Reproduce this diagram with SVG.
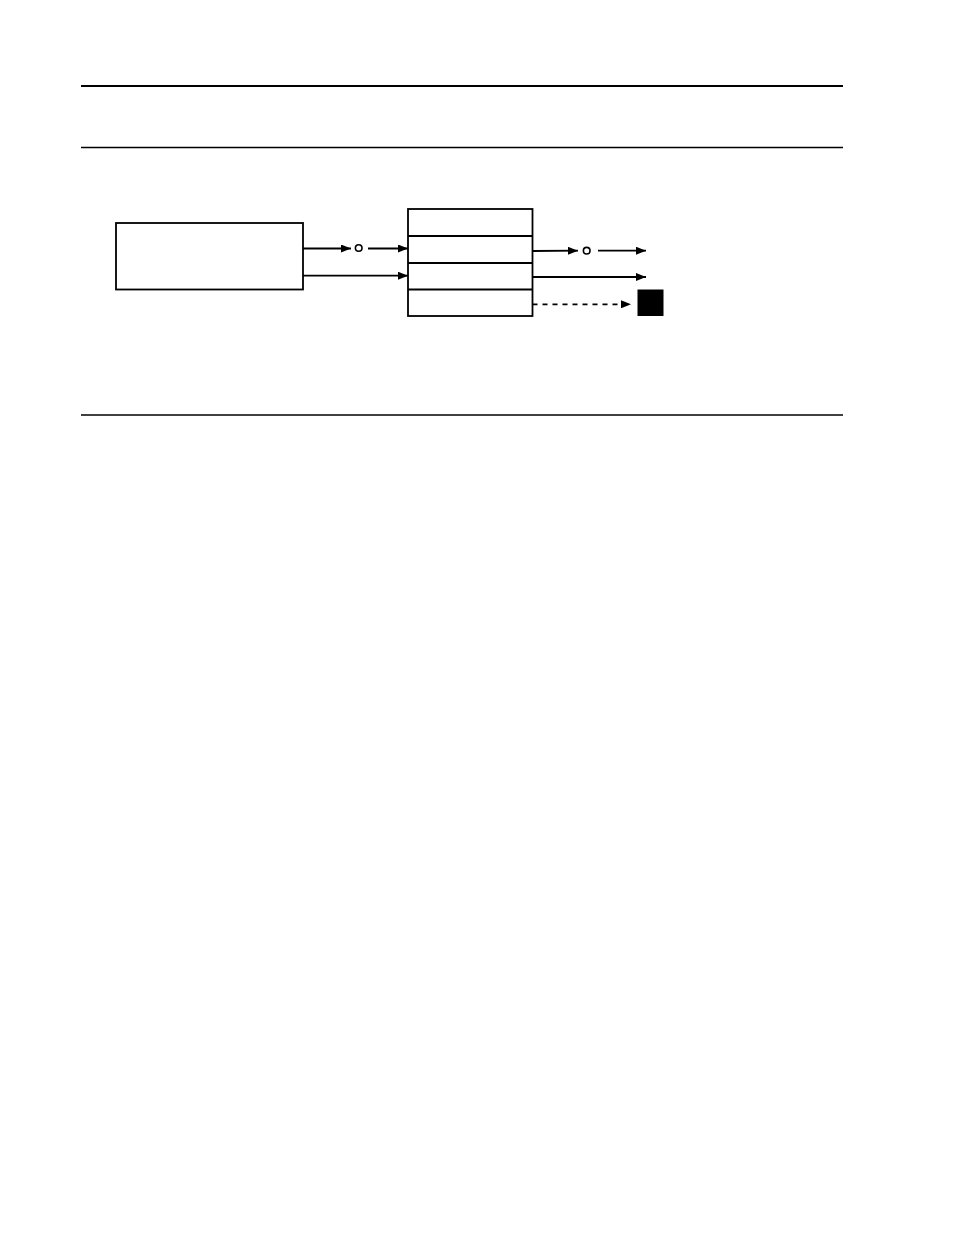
<svg xmlns="http://www.w3.org/2000/svg" width="954" height="1235" viewBox="0 0 954 1235">
<style>
.box{fill:#fff;stroke:#000;stroke-width:1.8}
.ln{stroke:#000;stroke-width:1.8;fill:none}
.rule{stroke:#000}
.dot{fill:#fff;stroke:#000;stroke-width:1.6}
</style>
<defs>
<marker id="ah" viewBox="0 0 10 8" refX="10" refY="4" markerWidth="10" markerHeight="8" markerUnits="userSpaceOnUse" orient="auto">
<path d="M0,0 L10,4 L0,8 Z" fill="#000"/>
</marker>
</defs>
<rect width="954" height="1235" fill="#fff"/>
<line class="rule" x1="81" y1="86" x2="843" y2="86" stroke-width="2"/>
<line class="rule" x1="81" y1="147.5" x2="843" y2="147.5" stroke-width="1.3"/>
<line class="rule" x1="81" y1="415" x2="843" y2="415" stroke-width="1.3"/>
<g id="source">
<rect class="box" x="116" y="223" width="187" height="66.5"/>
</g>
<g id="stack">
<rect class="box" x="408" y="209" width="124.5" height="107"/>
<line class="ln" x1="408" y1="236" x2="532.5" y2="236"/>
<line class="ln" x1="408" y1="263" x2="532.5" y2="263"/>
<line class="ln" x1="408" y1="289.5" x2="532.5" y2="289.5" stroke-width="1.2"/>
</g>
<g id="sink">
<rect x="637.5" y="289.5" width="26" height="26.5" fill="#000"/>
</g>
<g id="connectors">
<line class="ln" x1="303" y1="248.5" x2="351" y2="248.5" marker-end="url(#ah)"/>
<circle class="dot" cx="358.7" cy="248" r="3.3"/>
<line class="ln" x1="368" y1="248.5" x2="408" y2="248.5" marker-end="url(#ah)"/>
<line class="ln" x1="303" y1="275.7" x2="408" y2="275.7" marker-end="url(#ah)"/>
<line class="ln" x1="532.5" y1="251" x2="578" y2="250.7" marker-end="url(#ah)"/>
<circle class="dot" cx="586.7" cy="250.7" r="3.3"/>
<line class="ln" x1="598" y1="250.7" x2="646" y2="250.7" marker-end="url(#ah)"/>
<line class="ln" x1="532.5" y1="277" x2="646" y2="277" marker-end="url(#ah)"/>
<line class="ln" x1="532.5" y1="304.3" x2="631" y2="304.3" stroke-dasharray="5,5" marker-end="url(#ah)"/>
</g>
</svg>
